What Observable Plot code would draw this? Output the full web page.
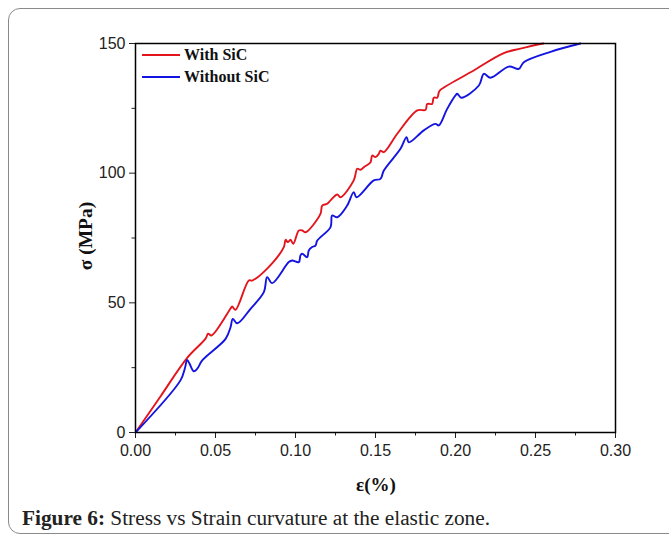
<!DOCTYPE html>
<html>
<head>
<meta charset="utf-8">
<script src="https://cdn.jsdelivr.net/npm/d3@7"></script>
<script src="https://cdn.jsdelivr.net/npm/@observablehq/plot@0.6"></script>
<style>
  html, body { margin: 0; padding: 0; background: #fff; width: 669px; height: 539px; overflow: hidden; }
  #wrap { position: relative; width: 669px; height: 539px; }
  #border { position: absolute; left: 8px; top: 8px; width: 700px; height: 526px; border: 1.2px solid #8a8a8a; border-radius: 12px; box-sizing: border-box; }
  #chart { position: absolute; left: 0; top: 0; }
  #chart svg text { font-size: 16px !important; font-family: "Liberation Sans", Arial, sans-serif !important; fill: #222; }
  .serif { font-family: "Liberation Serif", "Times New Roman", serif; color: #111; }
  #ylab { position: absolute; left: 86px; top: 236px; transform: translate(-50%, -50%) rotate(-90deg); font-weight: bold; font-size: 19.5px; white-space: nowrap; }
  #xlab { position: absolute; left: 376px; top: 485px; transform: translate(-50%, -50%); font-weight: bold; font-size: 19px; white-space: nowrap; }
  #caption { position: absolute; left: 22px; top: 506px; font-size: 21.3px; white-space: nowrap; color: #222; }
  .leg { position: absolute; left: 142px; font-weight: bold; font-size: 16px; white-space: nowrap; display: flex; align-items: center; }
  .leg span.sw { display: inline-block; width: 38px; height: 2px; margin-right: 4px; }
</style>
</head>
<body>
<div id="wrap">
  <div id="border"></div>
  <div id="chart"></div>
  <div id="ylab" class="serif">σ (MPa)</div>
  <div id="xlab" class="serif">ε(%)</div>
  <div id="caption" class="serif"><b>Figure 6:</b> Stress vs Strain curvature at the elastic zone.</div>
  <div id="legend"></div>
</div>
<script>
// Data
const seriesNames = ["With SiC", "Without SiC"];
const seriesColors = ["#e3141c", "#1414e0"];

const withSiC_strain = [0, 0.0156, 0.0323, 0.0438, 0.0454, 0.0475, 0.0594, 0.0604, 0.0625, 0.0708, 0.0729, 0.0823, 0.0927, 0.0938, 0.0952, 0.0969, 0.0986, 0.1021, 0.1042, 0.1063, 0.1156, 0.1167, 0.1198, 0.1219, 0.1261, 0.1281, 0.1364, 0.1386, 0.1406, 0.1427, 0.1469, 0.1479, 0.15, 0.1521, 0.1531, 0.1552, 0.1636, 0.1761, 0.1813, 0.1823, 0.1854, 0.1864, 0.1886, 0.1896, 0.1906, 0.2094, 0.2302, 0.2406, 0.2531, 0.255];
const withSiC_stress = [0, 13.9, 28.8, 36.2, 38.1, 37.4, 47.8, 48.6, 47.3, 58.6, 58.6, 63.2, 71.5, 74.3, 73.4, 74.3, 72.8, 77.9, 77.9, 77.2, 84.3, 87.5, 88.2, 89.5, 91.8, 90.7, 97.2, 101.7, 101.3, 102.3, 104.2, 106.8, 106.2, 107.5, 108.7, 108.1, 115.2, 124.2, 124.4, 126.7, 126.7, 129.1, 129.1, 131.2, 132.1, 138.9, 146.3, 148.0, 149.8, 150];

const withoutSiC_strain = [0, 0.0281, 0.0308, 0.0323, 0.0338, 0.0364, 0.0386, 0.0417, 0.0563, 0.0594, 0.0608, 0.0636, 0.0719, 0.0802, 0.0823, 0.0854, 0.0958, 0.0979, 0.1021, 0.1031, 0.1042, 0.1073, 0.1083, 0.1104, 0.1125, 0.1136, 0.1219, 0.1229, 0.1261, 0.1323, 0.1364, 0.1381, 0.1489, 0.1531, 0.1552, 0.1656, 0.1694, 0.1708, 0.1802, 0.1875, 0.1896, 0.1948, 0.2, 0.2011, 0.2036, 0.2146, 0.2177, 0.2219, 0.2333, 0.2396, 0.2427, 0.2594, 0.2781];
const withoutSiC_stress = [0, 20.1, 24.6, 28.0, 26.5, 23.6, 24.6, 27.8, 36.1, 40.6, 43.8, 42.1, 47.7, 54.1, 59.9, 57.6, 65.7, 66.3, 65.7, 68.3, 68.9, 67.6, 70.2, 71.5, 72.1, 74.0, 79.2, 83.7, 83.0, 87.5, 92.7, 90.7, 97.2, 97.8, 101.0, 109.4, 113.9, 111.9, 116.5, 119.0, 118.4, 124.8, 130.0, 130.6, 129.1, 133.8, 138.3, 136.8, 141.1, 140.2, 142.8, 146.8, 150];

const xMajorTicks = [0, 0.05, 0.10, 0.15, 0.20, 0.25, 0.30];
const xMinorTicks = [0.025, 0.075, 0.125, 0.175, 0.225, 0.275];
const yMajorTicks = [0, 50, 100, 150];
const yMinorTicks = [25, 75, 125];

const rows = [];
withSiC_strain.forEach((x, i) => rows.push({series: seriesNames[0], x, y: withSiC_stress[i]}));
withoutSiC_strain.forEach((x, i) => rows.push({series: seriesNames[1], x, y: withoutSiC_stress[i]}));

const plot = Plot.plot({
  width: 669,
  height: 500,
  marginLeft: 135,
  marginRight: 54,
  marginTop: 43,
  marginBottom: 68,
  style: {background: "transparent", color: "#222", fontSize: "16px", fontFamily: "'Liberation Sans', Arial, sans-serif"},
  x: {domain: [0, 0.30], label: null},
  y: {domain: [0, 150], label: null},
  color: {domain: seriesNames, range: seriesColors},
  marks: [
    Plot.axisX({ticks: xMajorTicks, tickSize: 6, tickPadding: 6, tickFormat: d3.format(".2f"), label: null}),
    Plot.axisX({ticks: xMinorTicks, tickSize: 3.5, tickFormat: () => "", label: null}),
    Plot.axisY({ticks: yMajorTicks, tickSize: 6, tickPadding: 4, tickFormat: d3.format("d"), label: null}),
    Plot.axisY({ticks: yMinorTicks, tickSize: 3.5, tickFormat: () => "", label: null}),
    Plot.line(rows, {x: "x", y: "y", z: "series", stroke: "series", strokeWidth: 1.9, curve: "catmull-rom"}),
    Plot.frame({stroke: "#000", strokeWidth: 1.5})
  ]
});
document.getElementById("chart").appendChild(plot);

// Legend
const legend = document.getElementById("legend");
const legTops = [46, 68];
seriesNames.forEach((name, i) => {
  const d = document.createElement("div");
  d.className = "leg serif";
  d.style.top = legTops[i] + "px";
  d.innerHTML = `<span class="sw" style="background:${seriesColors[i]}"></span>${name}`;
  legend.appendChild(d);
});
</script>
</body>
</html>
